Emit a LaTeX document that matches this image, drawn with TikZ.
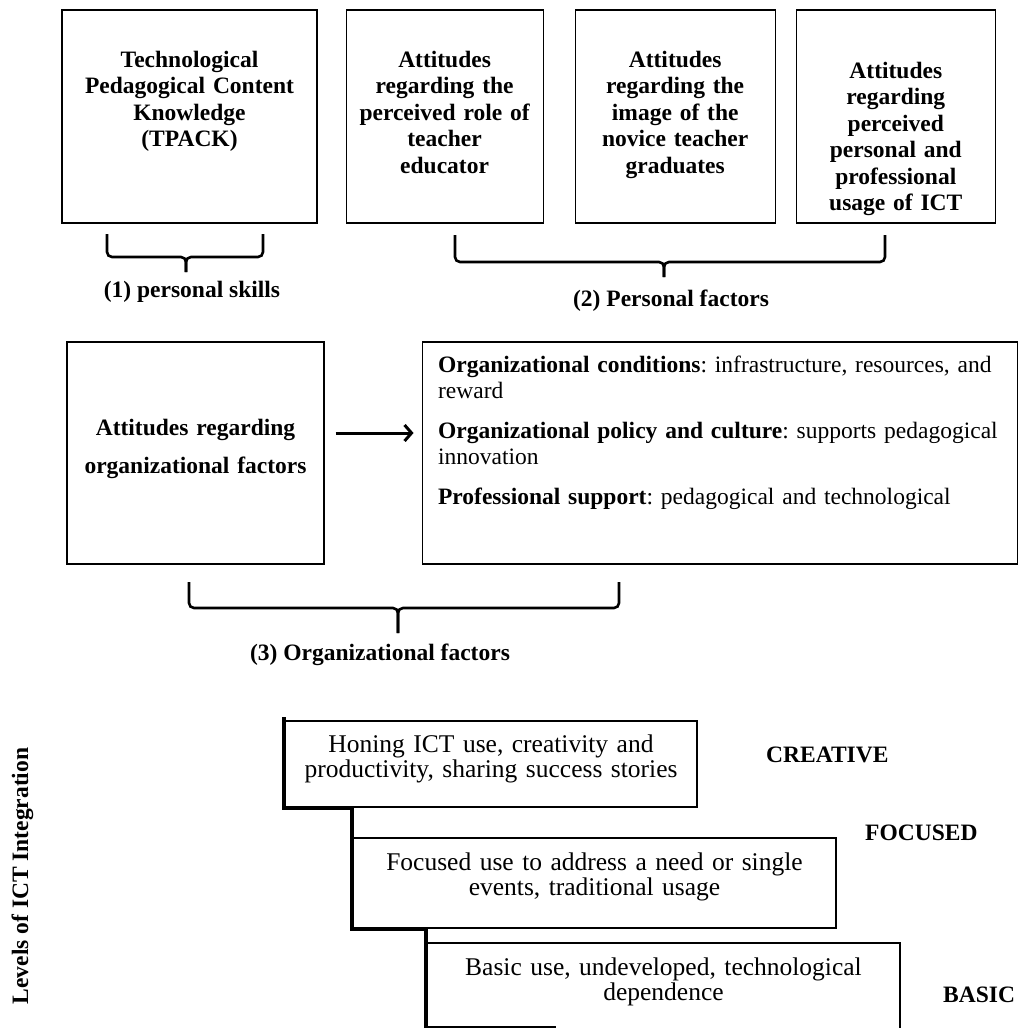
\documentclass[tikz,border=0pt]{standalone}
\usepackage{fontspec}
\setmainfont{Liberation Serif}
\usetikzlibrary{positioning, arrows.meta}

\begin{document}
\frenchspacing
\begin{tikzpicture}[
    x=1pt, y=-1pt,
    node distance=28pt,
    factor/.style={rectangle, draw, line width=1.1pt, inner sep=0pt, align=center, text width=#1, font=\fontsize{23.5}{26.5}\selectfont\bfseries},
    cond/.style={rectangle, draw, line width=1.1pt, inner xsep=16pt, inner ysep=0pt, align=left, text width=563pt, font=\fontsize{23.5}{26}\selectfont},
    level/.style={rectangle, draw, line width=1.1pt, inner sep=0pt, align=center, text width=#1, font=\fontsize{25.5}{25.5}\selectfont},
    group/.style={inner sep=0pt, anchor=base, font=\fontsize{23.5}{26}\selectfont\bfseries},
    tier/.style={inner sep=0pt, anchor=base west, font=\fontsize{23.5}{26}\selectfont\bfseries},
    brace/.style={line width=2.6pt, rounded corners=5pt},
    arrow/.style={-{Straight Barb[length=7pt, width=16pt]}, line width=3pt},
    stair/.style={line width=4pt},
]
\path[use as bounding box, clip] (0,0) rectangle (1020,1028);

% factors, first row
\node[factor=255pt, text height=57pt, text depth=156pt] (tpack) at (189.5,116.5) {Technological\\ Pedagogical Content\\ Knowledge\\ (TPACK)};
\node[factor=197pt, text height=57pt, text depth=156pt, right=28pt of tpack] (role) {Attitudes\\ regarding the\\ perceived role of\\ teacher\\ educator};
\node[factor=200pt, text height=57pt, text depth=156pt, right=31pt of role] (image) {Attitudes\\ regarding the\\ image of the\\ novice teacher\\ graduates};
\node[factor=199pt, text height=68pt, text depth=145pt, right=20pt of image] (usage) {Attitudes\\ regarding\\ perceived\\ personal and\\ professional\\ usage of ICT};

\draw[brace] (107,234) |- (186,257) -- (186,272);
\draw[brace] (263,234) |- (186,257) -- (186,272);
\node[group] (skills) at (192,297) {(1) personal skills};
\draw[brace] (455,235) |- (664,262) -- (664,277);
\draw[brace] (885,235) |- (664,262) -- (664,277);
\node[group] (personal) at (671,306) {(2) Personal factors};

% organizational factors
\node[factor=257pt, text height=93pt, text depth=129pt] (orgatt) at (195.5,453) {Attitudes regarding\\[12pt] organizational factors};
\node[cond, text height=30pt, text depth=192pt, right=97pt of orgatt] (orgcond) {\textbf{Organizational conditions}: infrastructure, resources, and\\ reward\\[14pt] \textbf{Organizational policy and culture}: supports pedagogical\\ innovation\\[14pt] \textbf{Professional support}: pedagogical and technological};
\draw[arrow, shorten <=11pt, shorten >=8pt] ([yshift=20pt]orgatt.east) -- ([yshift=20pt]orgcond.west);

\draw[brace] (189,582) |- (398,608) -- (398,633);
\draw[brace] (619,582) |- (398,608) -- (398,633);
\node[group] (organizational) at (380,660) {(3) Organizational factors};

% levels of integration
\node[group, rotate=90] (axis) at (28,876) {Levels of ICT Integration};
\node[level=412pt, text height=31pt, text depth=55pt] (crea) at (491,764) {Honing ICT use, creativity and\\ productivity, sharing success stories};
\node[level=483pt, text height=32pt, text depth=58pt] (focu) at (594.5,883) {Focused use to address a need or single\\ events, traditional usage};
\node[level=473pt, text height=32pt, text depth=70pt] (basi) at (663.5,994) {Basic use, undeveloped, technological\\ dependence};
\node[tier] (creative) at (766,762) {CREATIVE};
\node[tier] (focused) at (865,840) {FOCUSED};
\node[tier] (basic) at (943,1002) {BASIC};

\draw[stair] ([yshift=3pt]crea.north west) -- (crea.south west) -- (crea.south west -| focu.west) -- (focu.south west) -- (focu.south west -| basi.west) -- (basi.south west);
\coordinate (cut) at (0,1027);
\draw[line width=1.1pt] (basi.west |- cut) -- ++(130,0);

\end{tikzpicture}
\end{document}
